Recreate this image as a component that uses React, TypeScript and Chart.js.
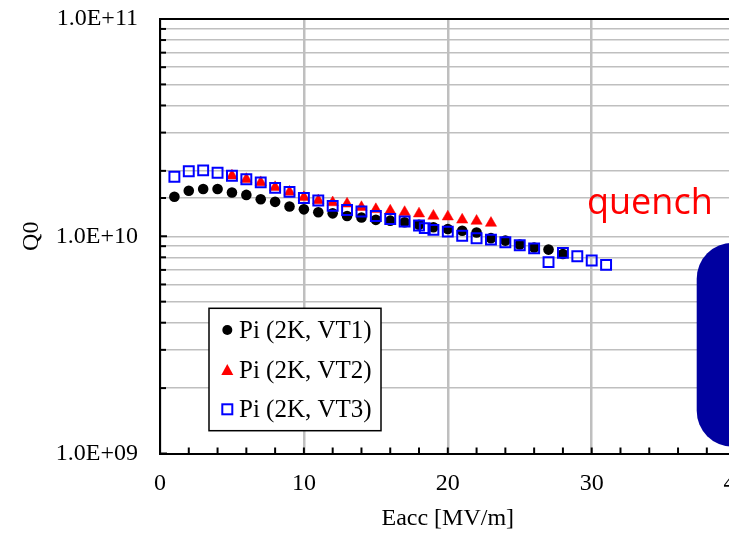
import React, { useEffect, useLayoutEffect, useRef } from 'react';
import { Chart, registerables } from 'chart.js';

Chart.register(...registerables);

// ---- data ----
const eaccVT1 = [1, 2, 3, 4, 5, 6, 7, 8, 9, 10, 11, 12, 13, 14, 15, 16, 17, 18, 19, 20, 21, 22, 23, 24, 25, 26, 27, 28];
const q0VT1 = [1.52e10, 1.62e10, 1.65e10, 1.65e10, 1.59e10, 1.55e10, 1.48e10, 1.44e10, 1.37e10, 1.33e10, 1.29e10, 1.275e10, 1.24e10, 1.22e10, 1.19e10, 1.18e10, 1.16e10, 1.13e10, 1.10e10, 1.08e10, 1.06e10, 1.04e10, 9.8e9, 9.55e9, 9.17e9, 8.88e9, 8.68e9, 8.29e9];

const eaccVT2 = [5, 6, 7, 8, 9, 10, 11, 12, 13, 14, 15, 16, 17, 18, 19, 20, 21, 22, 23];
const q0VT2 = [1.90e10, 1.83e10, 1.77e10, 1.68e10, 1.60e10, 1.51e10, 1.46e10, 1.43e10, 1.41e10, 1.36e10, 1.33e10, 1.31e10, 1.29e10, 1.27e10, 1.24e10, 1.23e10, 1.19e10, 1.175e10, 1.15e10];

const eaccVT3 = [1, 2, 3, 4, 5, 6, 7, 8, 9, 10, 11, 12, 13, 14, 15, 16, 17, 18, 18.4, 19, 20, 21, 22, 23, 24, 25, 26, 27, 28, 29, 30, 31];
const q0VT3 = [1.88e10, 1.99e10, 2.01e10, 1.96e10, 1.90e10, 1.83e10, 1.77e10, 1.67e10, 1.60e10, 1.50e10, 1.46e10, 1.38e10, 1.32e10, 1.30e10, 1.24e10, 1.20e10, 1.17e10, 1.12e10, 1.09e10, 1.07e10, 1.05e10, 1.006e10, 9.79e9, 9.65e9, 9.39e9, 9.09e9, 8.79e9, 7.60e9, 8.38e9, 8.09e9, 7.73e9, 7.38e9];

const seriesLabels = ['Pi (2K, VT1)', 'Pi (2K, VT2)', 'Pi (2K, VT3)'];
const xTitle = 'Eacc [MV/m]';
const yTitle = 'Q0';
const noteText = 'quench';
const xMin = 0;
const xMax = 40;
const yMin = 1e9;
const yMax = 1e11;

const SERIF = "'Liberation Serif', 'Times New Roman', serif";

const toPoints = (xs: number[], ys: number[]) => xs.map((x, i) => ({ x, y: ys[i] }));

const decorPlugin = {
  id: 'decor',
  afterDraw(chart: any) {
    const { ctx, chartArea, scales } = chart;
    const xs = scales.x;
    const ys = scales.y;
    ctx.save();
    // top border
    ctx.strokeStyle = '#000';
    ctx.lineWidth = 2;
    ctx.beginPath();
    ctx.moveTo(chartArea.left, chartArea.top);
    ctx.lineTo(chartArea.right, chartArea.top);
    ctx.stroke();
    // y minor/major ticks inside
    ys.ticks.forEach((t: any) => {
      const py = ys.getPixelForValue(t.value);
      const major = Math.abs(Math.log10(t.value) - Math.round(Math.log10(t.value))) < 1e-6;
      ctx.beginPath();
      ctx.moveTo(chartArea.left, py);
      ctx.lineTo(chartArea.left + (major ? 7 : 6), py);
      ctx.stroke();
    });
    // x ticks every 2 units inside
    for (let v = xMin; v <= xMax; v += 2) {
      const px = xs.getPixelForValue(v);
      ctx.beginPath();
      ctx.moveTo(px, chartArea.bottom);
      ctx.lineTo(px, chartArea.bottom - 6);
      ctx.stroke();
    }
    // legend box
    const lx = 201, ly = 300.3, lw = 172, lh = 122.4;
    ctx.fillStyle = '#fff';
    ctx.fillRect(lx, ly, lw, lh);
    ctx.lineWidth = 1.5;
    ctx.strokeStyle = '#000';
    ctx.strokeRect(lx, ly, lw, lh);
    const rowY = [322, 362, 401.3];
    const mx = 219.3;
    ctx.font = `25px ${SERIF}`;
    ctx.textBaseline = 'middle';
    ctx.textAlign = 'left';
    // circle
    ctx.fillStyle = '#000';
    ctx.beginPath();
    ctx.arc(mx, rowY[0], 5, 0, Math.PI * 2);
    ctx.fill();
    // triangle
    ctx.fillStyle = '#FF0000';
    ctx.beginPath();
    ctx.moveTo(mx, rowY[1] - 6);
    ctx.lineTo(mx + 6, rowY[1] + 5);
    ctx.lineTo(mx - 6, rowY[1] + 5);
    ctx.closePath();
    ctx.fill();
    // square
    ctx.strokeStyle = '#0000FF';
    ctx.lineWidth = 2;
    ctx.strokeRect(mx - 5, rowY[2] - 5, 10, 10);
    ctx.fillStyle = '#000';
    seriesLabels.forEach((s, i) => ctx.fillText(s, 231, rowY[i] + 1));
    // quench note
    ctx.fillStyle = '#FF0000';
    ctx.font = "36px 'Open Sans', 'Liberation Sans', sans-serif";
    ctx.textBaseline = 'alphabetic';
    ctx.fillText(noteText, 579, 205.5);
    // dark blue rounded box (cut off at right)
    ctx.fillStyle = '#0000A0';
    ctx.beginPath();
    (ctx as any).roundRect(688.7, 234.7, 120, 204, 36);
    ctx.fill();
    ctx.restore();
  },
};

export default function App() {
  const ref = useRef<HTMLCanvasElement>(null);
  useLayoutEffect(() => {
    document.documentElement.style.overflow = 'hidden';
    document.body.style.overflow = 'hidden';
    document.body.style.margin = '0';
  }, []);
  useEffect(() => {
    const chart = new Chart(ref.current as HTMLCanvasElement, {
      type: 'scatter',
      data: {
        datasets: [
          {
            label: seriesLabels[0],
            data: toPoints(eaccVT1, q0VT1),
            pointStyle: 'circle',
            pointRadius: 5.3,
            backgroundColor: '#000',
            borderColor: '#000',
            borderWidth: 0,
            order: 2,
          },
          {
            label: seriesLabels[1],
            data: toPoints(eaccVT2, q0VT2),
            pointStyle: 'triangle',
            pointRadius: 6.5,
            backgroundColor: '#FF0000',
            borderColor: '#FF0000',
            borderWidth: 0.5,
            order: 1,
          },
          {
            label: seriesLabels[2],
            data: toPoints(eaccVT3, q0VT3),
            pointStyle: 'rect',
            pointRadius: 7,
            backgroundColor: 'rgba(0,0,0,0)',
            borderColor: '#0000FF',
            borderWidth: 2,
            order: 0,
          },
        ],
      },
      options: {
        animation: false,
        responsive: false,
        maintainAspectRatio: false,
        layout: { padding: { top: 11, right: 24.4, bottom: 0, left: 0 } },
        plugins: {
          legend: { display: false },
          tooltip: { enabled: false },
        },
        scales: {
          x: {
            type: 'linear',
            min: xMin,
            max: xMax,
            afterFit: (s: any) => {
              s.height = 79.5;
              s.paddingLeft = 0;
              s.paddingRight = 0;
            },
            ticks: {
              stepSize: 10,
              color: '#000',
              font: { family: SERIF, size: 24 },
              padding: 16,
              maxRotation: 0,
            },
            grid: { color: '#BFBFBF', lineWidth: 2.5, drawTicks: false },
            border: { display: true, color: '#000', width: 2 },
            title: {
              display: true,
              text: xTitle,
              color: '#000',
              font: { family: SERIF, size: 24 },
              padding: { top: 0, bottom: 0 },
            },
          },
          y: {
            type: 'logarithmic',
            min: yMin,
            max: yMax,
            afterFit: (s: any) => {
              s.width = 152;
              s.paddingTop = 0;
              s.paddingBottom = 0;
            },
            ticks: {
              autoSkip: false,
              color: '#000',
              font: { family: SERIF, size: 24 },
              padding: 22,
              callback: (v: any) => {
                const e = Math.log10(Number(v));
                if (Math.abs(e - Math.round(e)) > 1e-6) return '';
                const n = Math.round(e);
                return `1.0E+${String(n).padStart(2, '0')}`;
              },
            },
            grid: {
              color: (c: any) => (c.tick && c.tick.value >= yMax ? '#000' : '#BFBFBF'),
              lineWidth: 1.5,
              drawTicks: false,
            },
            border: { display: true, color: '#000', width: 2 },
            title: {
              display: true,
              text: yTitle,
              color: '#000',
              font: { family: SERIF, size: 24 },
              padding: { top: 9, bottom: 0 },
            },
          },
        },
      },
      plugins: [decorPlugin],
    } as any);
    return () => chart.destroy();
  }, []);
  return (
    <div style={{ width: 729, height: 533, position: 'relative', overflow: 'hidden', background: '#fff' }}>
      <canvas
        ref={ref}
        width={752}
        height={525}
        style={{ display: 'block', position: 'absolute', left: 8, top: 8 }}
      />
    </div>
  );
}
